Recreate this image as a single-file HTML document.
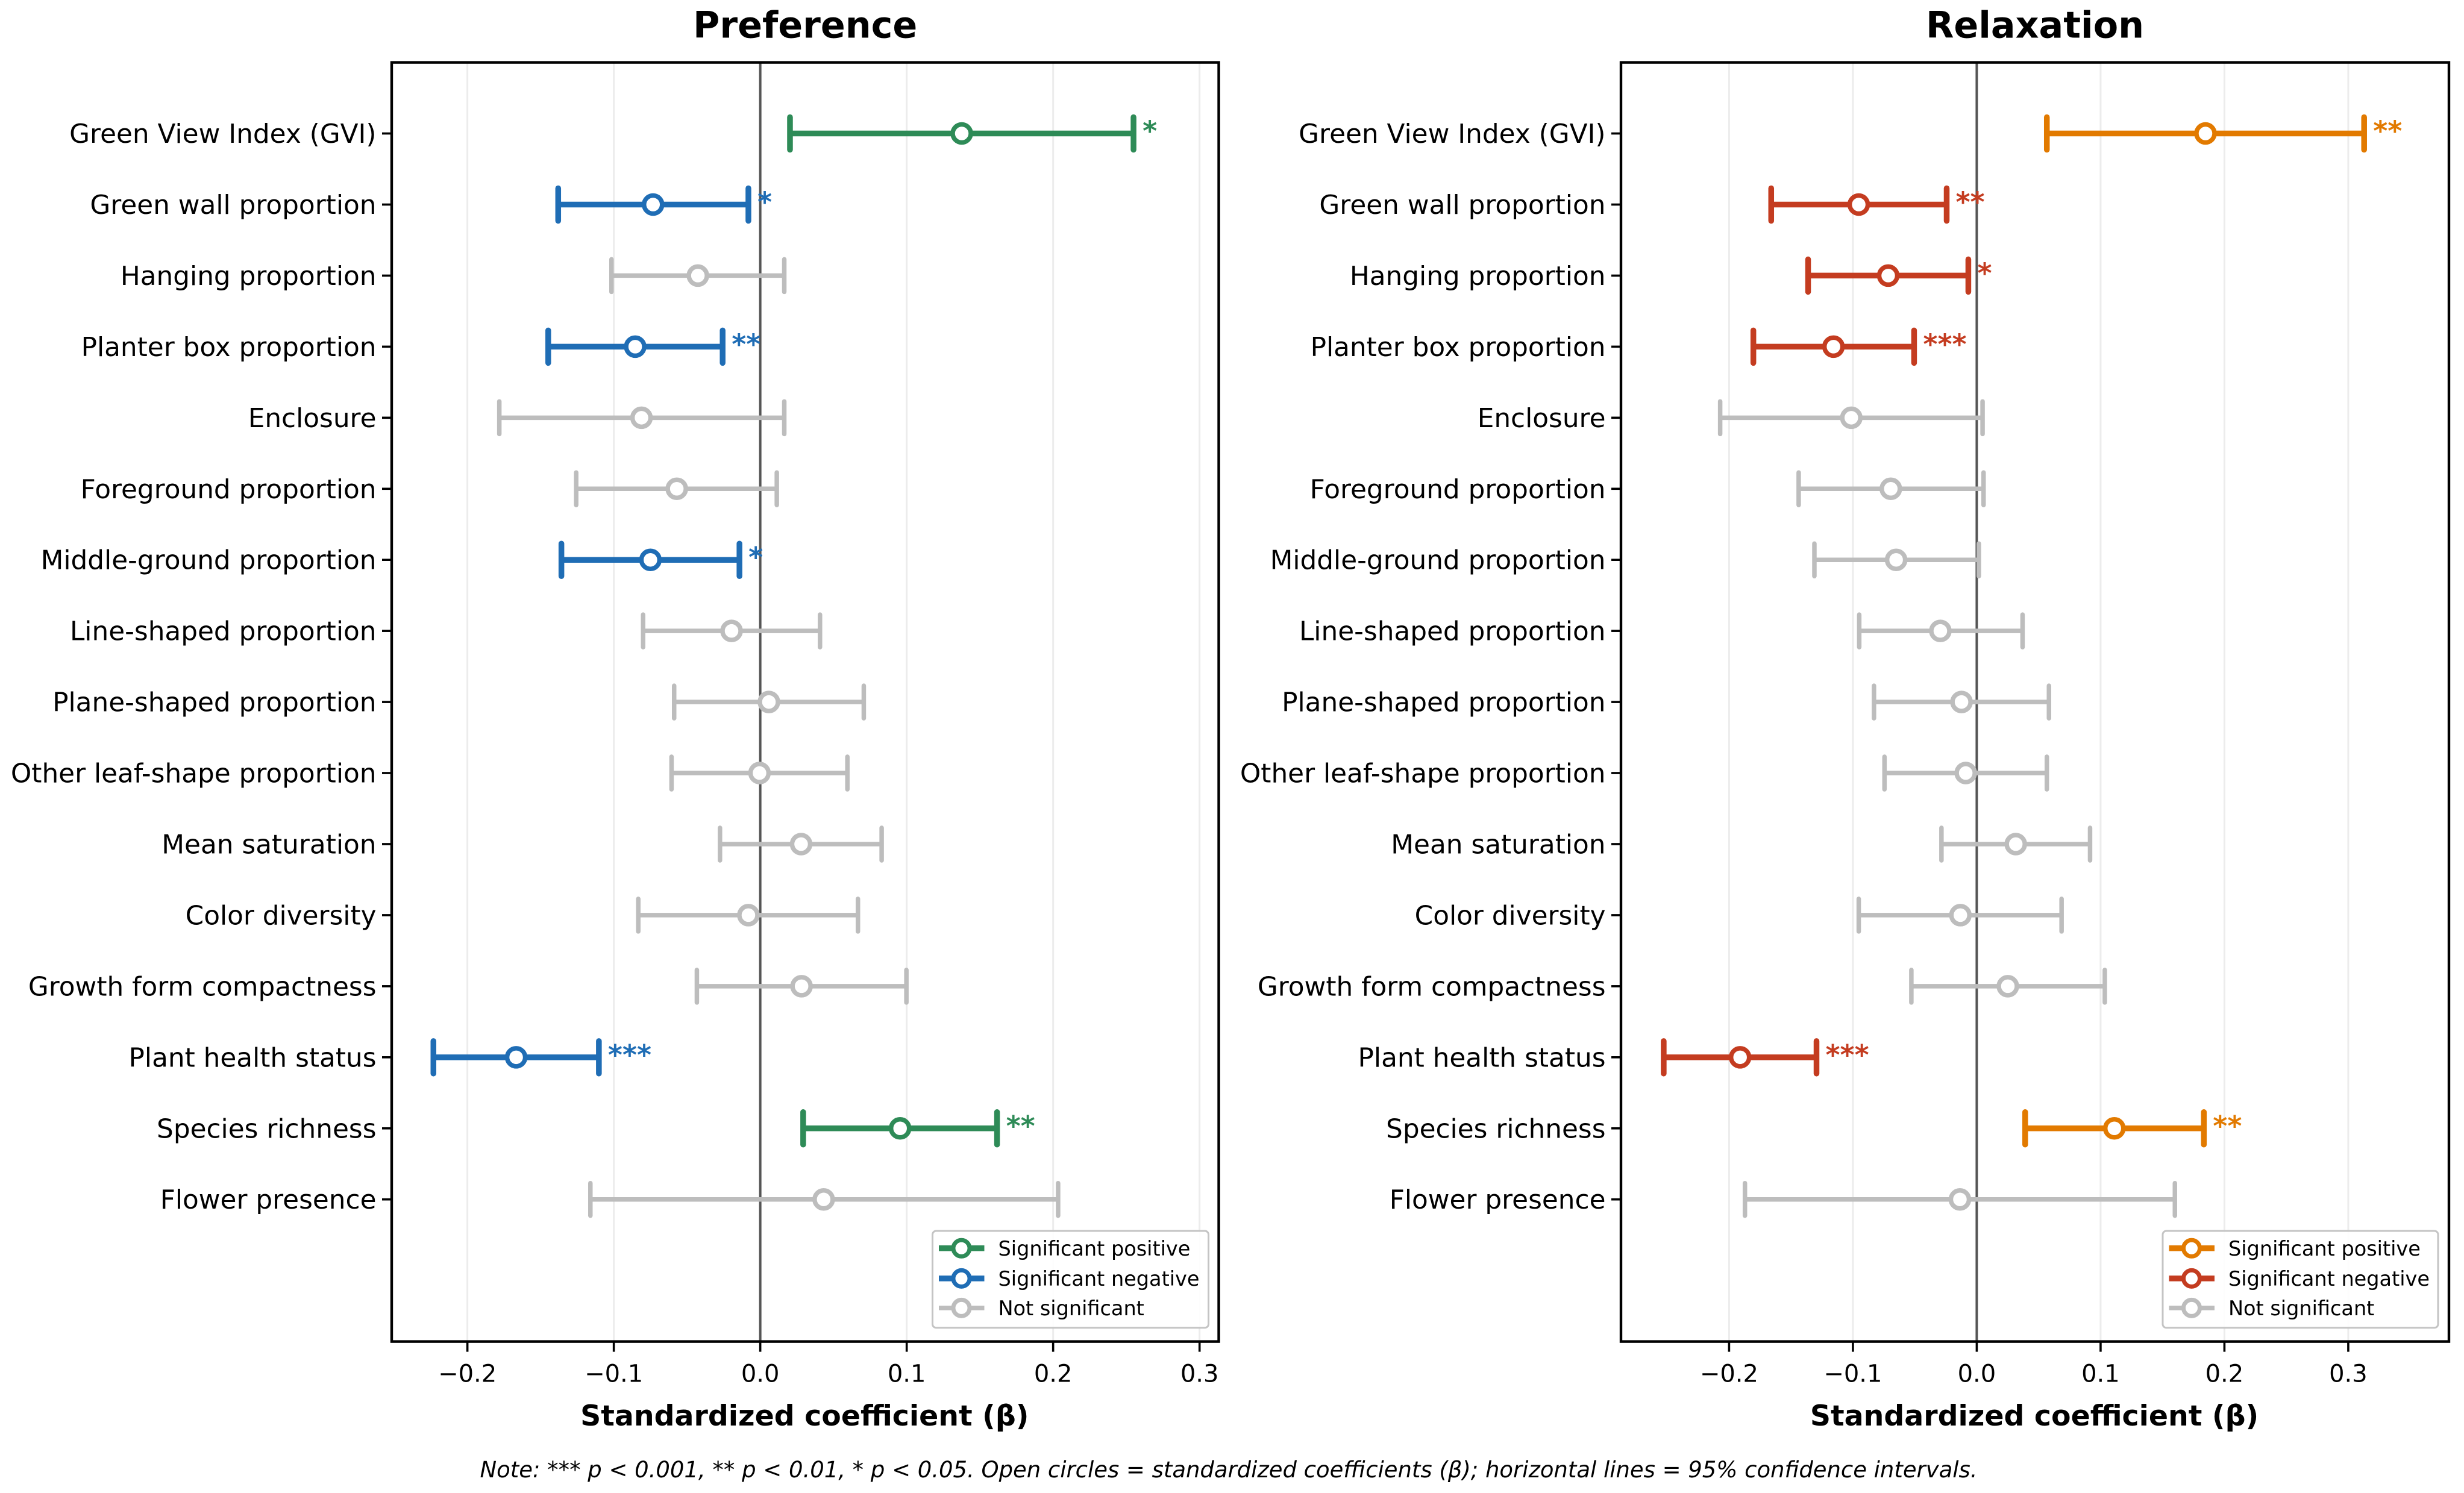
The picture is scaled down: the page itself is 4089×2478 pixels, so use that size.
<!DOCTYPE html>
<html lang="en">
<head>
<meta charset="utf-8">
<title>Standardized coefficients for Preference and Relaxation</title>
<style>
html,body{margin:0;padding:0;background:#fff;}
svg{display:block;}
text{font-family:"DejaVu Sans","Liberation Sans",sans-serif;fill:#000;}
</style>
</head>
<body>
<svg id="chart" xmlns="http://www.w3.org/2000/svg" width="4089" height="2478" viewBox="0 0 4089 2478">
<rect width="4089" height="2478" fill="#fff"/>
<text x="2039" y="2452" text-anchor="middle" font-size="36.95" font-style="italic">Note: *** p &lt; 0.001, ** p &lt; 0.01, * p &lt; 0.05. Open circles = standardized coefficients (β); horizontal lines = 95% confidence intervals.</text>
</svg>
<script>
const categories = ["Green View Index (GVI)","Green wall proportion","Hanging proportion","Planter box proportion","Enclosure","Foreground proportion","Middle-ground proportion","Line-shaped proportion","Plane-shaped proportion","Other leaf-shape proportion","Mean saturation","Color diversity","Growth form compactness","Plant health status","Species richness","Flower presence"];
const xTickValues = [-0.2,-0.1,0,0.1,0.2,0.3];
const xTickLabels = ["−0.2","−0.1","0.0","0.1","0.2","0.3"];
const legendLabels = ["Significant positive","Significant negative","Not significant"];

const prefLow  = [0.0203,-0.1380,-0.1016,-0.1448,-0.1782,-0.1257,-0.1358,-0.0800,-0.0588,-0.0606,-0.0275,-0.0833,-0.0433,-0.2232,0.0293,-0.1160];
const prefBeta = [0.1376,-0.0732,-0.0426,-0.0854,-0.0811,-0.0570,-0.0750,-0.0196,0.0059,-0.0005,0.0279,-0.0081,0.0282,-0.1667,0.0955,0.0433];
const prefHigh = [0.2549,-0.0081,0.0164,-0.0257,0.0164,0.0113,-0.0142,0.0408,0.0707,0.0595,0.0829,0.0667,0.0998,-0.1102,0.1617,0.2034];
const prefStars = ["*","*","","**","","","*","","","","","","","***","**",""];

const relaxLow  = [0.0566,-0.1660,-0.1362,-0.1804,-0.2072,-0.1438,-0.1311,-0.0949,-0.0830,-0.0745,-0.0285,-0.0953,-0.0528,-0.2528,0.0391,-0.1872];
const relaxBeta = [0.1847,-0.0953,-0.0715,-0.1157,-0.1013,-0.0694,-0.0651,-0.0294,-0.0123,-0.0089,0.0315,-0.0132,0.0251,-0.1911,0.1111,-0.0136];
const relaxHigh = [0.3128,-0.0243,-0.0068,-0.0506,0.0047,0.0055,0.0017,0.0370,0.0583,0.0566,0.0915,0.0685,0.1034,-0.1294,0.1834,0.1600];
const relaxStars = ["**","**","*","***","","","","","","","","","","***","**",""];

const NS = "http://www.w3.org/2000/svg";
const svg = document.getElementById("chart");
const yDomain = [-1, 17];
const plotTop = 103.6, plotBottom = 2226.6;
function yScale(v){ return plotTop + (v - yDomain[0]) / (yDomain[1] - yDomain[0]) * (plotBottom - plotTop); }
function mk(tag, attrs, parent){
  const e = document.createElementNS(NS, tag);
  for (const k in attrs) e.setAttribute(k, attrs[k]);
  parent.appendChild(e);
  return e;
}
const GRAY = "#bdbdbd";

function drawPanel(cfg){
  const xScale = v => cfg.left + (v - cfg.domain[0]) / (cfg.domain[1] - cfg.domain[0]) * (cfg.right - cfg.left);
  const g = mk("g", {}, svg);
  
  

  xTickValues.forEach((t, i) => {
    if (t === 0) return;
    const gl = mk("line", {x1:xScale(t), x2:xScale(t), y1:plotTop, y2:plotBottom, stroke:"#ececec", "stroke-width":3}, g);
    
    
  });
  const zero = mk("line", {x1:xScale(0), x2:xScale(0), y1:plotTop, y2:plotBottom, stroke:"#555", "stroke-width":4}, g);
  
  

  categories.forEach((name, i) => {
    const y = yScale(i);
    const sig = cfg.stars[i] !== "";
    const col = !sig ? GRAY : (cfg.beta[i] > 0 ? cfg.posColor : cfg.negColor);
    const w = sig ? 9.5 : 7.5;
    const row = mk("g", {}, g);
    
    

    const bar = mk("line", {x1:xScale(cfg.low[i]), x2:xScale(cfg.high[i]), y1:y, y2:y, stroke:col, "stroke-width":w}, row);
    
    

    [cfg.low[i], cfg.high[i]].forEach(v => {
      const cap = mk("line", {x1:xScale(v), x2:xScale(v), y1:y-27, y2:y+27, stroke:col, "stroke-width":w, "stroke-linecap":"round"}, row);
      
      
    });

    const dot = mk("circle", {cx:xScale(cfg.beta[i]), cy:y, r:15, fill:"#fff", stroke:col, "stroke-width":7.5}, row);
    
    

    if (sig) {
      const st = mk("text", {x:xScale(cfg.high[i]) + 15, y:y + 12, "font-size":46, "font-weight":"bold", style:"fill:" + col}, row);
      st.textContent = cfg.stars[i];
      
      
    }

    const tick = mk("line", {x1:cfg.left-16, x2:cfg.left, y1:y, y2:y, stroke:"#000", "stroke-width":3.6}, g);
    
    

    const lab = mk("text", {x:cfg.left-25.5, y:y+15.5, "text-anchor":"end", "font-size":43.75}, g);
    lab.textContent = name;
    
    
  });

  const frame = mk("rect", {x:cfg.left, y:plotTop, width:cfg.right-cfg.left, height:plotBottom-plotTop, fill:"none", stroke:"#000", "stroke-width":4.4}, g);
  
  

  xTickValues.forEach((t, i) => {
    const tick = mk("line", {x1:xScale(t), x2:xScale(t), y1:plotBottom, y2:plotBottom+17, stroke:"#000", "stroke-width":3.6}, g);
    
    
    const lab = mk("text", {x:xScale(t), y:2293.5, "text-anchor":"middle", "font-size":40}, g);
    lab.textContent = xTickLabels[i];
    
    
  });

  const cx = (cfg.left + cfg.right) / 2;
  const title = mk("text", {x:cx, y:62.5, "text-anchor":"middle", "font-size":60.3, "font-weight":"bold"}, g);
  title.textContent = cfg.title;
  
  

  const xl = mk("text", {x:cx - 1, y:2366, "text-anchor":"middle", "font-size":47.4, "font-weight":"bold"}, g);
  xl.textContent = "Standardized coefficient (β)";
  
  

  const leg = mk("g", {}, g);
  
  
  const box = mk("rect", {x:cfg.legX, y:2043, width:cfg.legW, height:160.7, rx:6, ry:6, fill:"#fff", "fill-opacity":0.9, stroke:"#c4c4c4", "stroke-width":3}, leg);
  
  
  const legColors = [cfg.posColor, cfg.negColor, GRAY];
  const legY = [2071.8, 2121.9, 2170.9];
  legendLabels.forEach((t, i) => {
    const sw = i < 2 ? 9.5 : 7.5;
    const ln = mk("line", {x1:cfg.legX+10.5, x2:cfg.legX+86, y1:legY[i], y2:legY[i], stroke:legColors[i], "stroke-width":sw}, leg);
    
    
    const mc = mk("circle", {cx:cfg.legX+48, cy:legY[i], r:13.5, fill:"#fff", stroke:legColors[i], "stroke-width":7}, leg);
    
    
    const tx = mk("text", {x:cfg.legX+109, y:legY[i]+12, "font-size":33.5}, leg);
    tx.textContent = t;
    
    
  });
}

drawPanel({id:"preference", title:"Preference", left:650, right:2022.5, domain:[-0.2517,0.3131],
  low:prefLow, beta:prefBeta, high:prefHigh, stars:prefStars, posColor:"#2e8b57", negColor:"#1f6db5", legX:1547.5, legW:458});
drawPanel({id:"relaxation", title:"Relaxation", left:2690, right:4064, domain:[-0.2873,0.3813],
  low:relaxLow, beta:relaxBeta, high:relaxHigh, stars:relaxStars, posColor:"#e27a00", negColor:"#c43c20", legX:3589, legW:457});
</script>
</body>
</html>
